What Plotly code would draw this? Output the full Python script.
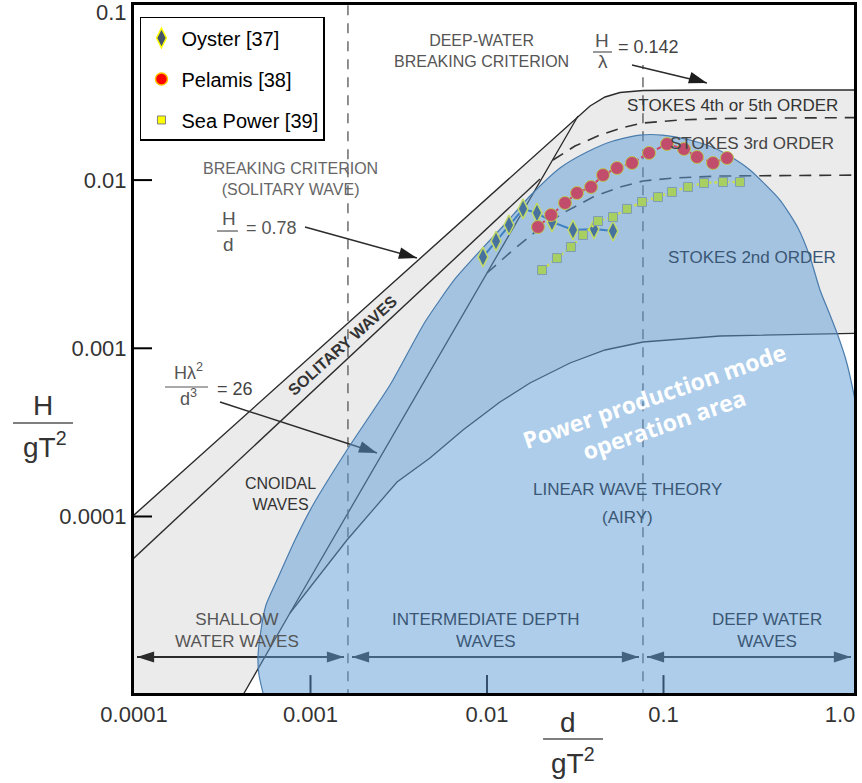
import plotly.graph_objects as go

# ---------------- device data (d/gT^2, H/gT^2) ----------------
oyster_x = [0.00949, 0.01125, 0.01332, 0.01600, 0.01920, 0.02335, 0.03070, 0.04038, 0.05175]
oyster_y = [0.00349, 0.00434, 0.00541, 0.00674, 0.00638, 0.00564, 0.00505, 0.00512, 0.00498]

pelamis_x = [0.01945, 0.02305, 0.02766, 0.03236, 0.03884, 0.04542, 0.05451, 0.06631,
             0.08279, 0.1047, 0.1306, 0.1548, 0.1907, 0.2290]
pelamis_y = [0.00526, 0.00620, 0.00731, 0.00838, 0.00910, 0.01072, 0.01180, 0.01264,
             0.01450, 0.01639, 0.01531, 0.01372, 0.01264, 0.01353]

seapower_x = [0.02050, 0.02492, 0.02991, 0.03500, 0.04256, 0.05175, 0.06213, 0.07554,
              0.09307, 0.1117, 0.1376, 0.1696, 0.2173, 0.2713]
seapower_y = [0.00292, 0.00344, 0.00400, 0.00472, 0.00571, 0.00603, 0.00674, 0.00741,
              0.00793, 0.00850, 0.00910, 0.00961, 0.00974, 0.00974]

# ---------------- region boundaries of the wave-theory diagram ----------------
shallow_limit = 0.00163
deep_limit = 0.0765

breaking_x = [8.0e-5, 0.03279, 0.03835, 0.04662, 0.05669, 0.07653, 0.1610, 1.5]
breaking_y = [8.27e-5, 0.02405, 0.02757, 0.03119, 0.03315, 0.03407, 0.03432, 0.03432]

solitary_x = [8.0e-5, 0.01997]
solitary_y = [4.55e-5, 0.01015]

ursell_x = [3.686e-4, 7.653e-4, 0.03279]
ursell_y = [7.0e-6, 2.668e-5, 0.02405]

linear_x = [7.653e-4, 1.6096e-3, 3.0925e-3, 4.753e-3, 7.311e-3, 0.011846, 0.017516,
            0.02954, 0.04662, 0.07653, 0.20901, 1.5]
linear_y = [2.668e-5, 7.248e-5, 1.6036e-4, 2.2275e-4, 3.268e-4, 4.794e-4, 6.218e-4,
            8.177e-4, 9.770e-4, 1.090e-3, 1.1832e-3, 1.2332e-3]

stokes34_x = [0.02365, 0.03152, 0.04368, 0.0605, 0.07653, 0.12404, 0.20901, 1.5]
stokes34_y = [0.013168, 0.015947, 0.018532, 0.020686, 0.021849, 0.02277, 0.023242, 0.023566]

stokes23_x = [0.0100, 0.014042, 0.019965, 0.027656, 0.03986, 0.05669, 0.07653, 0.11316, 0.20901, 1.5]
stokes23_y = [0.002804, 0.00384, 0.005191, 0.006463, 0.007933, 0.009099, 0.009877, 0.010285,
              0.010577, 0.010722]

# power production operation area outline
area_x = [5.381e-4, 5.107e-4, 5.040e-4, 5.241e-4, 5.595e-4, 6.459e-4, 8.172e-4, 1.0332e-3,
          1.6096e-3, 2.8211e-3, 4.4523e-3, 6.587e-3, 9.127e-3, 0.012647, 0.017516, 0.025913,
          0.036866, 0.051746, 0.07359, 0.09806, 0.1413, 0.18824, 0.24757, 0.3091, 0.45709,
          0.5781, 0.67608, 0.77018, 0.87787, 0.96161, 1.0814, 1.1846, 1.3323, 1.4791, 1.6849,
          1.6849, 0.04368, 7.653e-4, 5.743e-4]
area_y = [8.925e-6, 1.1418e-5, 1.4614e-5, 2.1145e-5, 2.9768e-5, 4.193e-5, 7.248e-5, 1.1703e-4,
          2.4849e-4, 6.05e-4, 1.4332e-3, 2.5823e-3, 3.7896e-3, 5.483e-3, 8.041e-3, 0.0118,
          0.014689, 0.01708, 0.018532, 0.018532, 0.017317, 0.015729, 0.01353, 0.011482, 7.613e-3,
          5.191e-3, 3.49e-3, 2.2213e-3, 1.577e-3, 1.2332e-3, 8.521e-4, 5.651e-4, 2.8496e-4,
          9.533e-5, 8.11e-6, 2.063e-6, 1.57e-6, 3.819e-6, 6.601e-6]

# depth-class arrows along the bottom
arrow_row_y = 1.46e-5
arrow_segments = [(1.04e-4, 1.548e-3), (1.718e-3, 0.07264), (0.08061, 1.154)]

# pointer arrows (start, tip)
ptr_hd = ([9.307e-4, 4.011e-3], [5.262e-3, 3.441e-3])
ptr_ursell = ([3.071e-4, 2.381e-3], [4.794e-4, 2.385e-4])
ptr_hl = ([0.06631, 0.1763], [0.04834, 0.03779])

x_tick_vals = [1e-4, 1e-3, 1e-2, 1e-1, 1]
x_tick_text = ["0.0001", "0.001", "0.01", "0.1", "1.0"]
y_tick_vals = [1e-4, 1e-3, 1e-2, 1e-1]
y_tick_text = ["0.0001", "0.001", "0.01", "0.1"]

FONT = "Liberation Sans, Arial, sans-serif"
fig = go.Figure()


def add_line(x, y, color="#2b2b2b", width=1.4, dash=None, shape="linear"):
    fig.add_trace(go.Scatter(x=x, y=y, mode="lines",
                             line=dict(color=color, width=width, dash=dash, shape=shape),
                             hoverinfo="skip", showlegend=False))


# grey non-linear region
gray_x = breaking_x + linear_x[::-1] + [ursell_x[0], breaking_x[0]]
gray_y = breaking_y + linear_y[::-1] + [ursell_y[0], ursell_y[0]]
fig.add_trace(go.Scatter(x=gray_x, y=gray_y, mode="lines", fill="toself", fillcolor="#ebebeb",
                         line=dict(width=0, color="#ebebeb"), hoverinfo="skip", showlegend=False))

add_line(breaking_x, breaking_y)
add_line(solitary_x, solitary_y)
add_line(ursell_x, ursell_y, width=1.3)
add_line(linear_x, linear_y, width=1.3)
add_line(stokes34_x, stokes34_y, color="#333333", width=1.6, dash="12px,8px")
add_line(stokes23_x, stokes23_y, color="#333333", width=1.6, dash="12px,8px")
add_line([shallow_limit, shallow_limit], [5e-6, 0.2], color="#555555", width=1.3, dash="10px,8px")
add_line([deep_limit, deep_limit], [5e-6, 0.0483], color="#555555", width=1.3, dash="10px,8px")

# bottom double arrows
head_x, head_ang = [], []
for a, b in arrow_segments:
    add_line([a, b], [arrow_row_y, arrow_row_y], width=2)
    head_x += [a, b]
    head_ang += [270, 90]
fig.add_trace(go.Scatter(x=head_x, y=[arrow_row_y] * len(head_x), mode="markers",
                         marker=dict(symbol="arrow", size=18, angle=head_ang, color="#2b2b2b",
                                     line=dict(width=0)),
                         hoverinfo="skip", showlegend=False))

# pointer arrows
for (px_, py_), ang in [(ptr_hd, 105.5), (ptr_ursell, 109.6), (ptr_hl, 107)]:
    add_line(px_, py_, width=1.5)
    fig.add_trace(go.Scatter(x=[px_[1]], y=[py_[1]], mode="markers",
                             marker=dict(symbol="arrow", size=19, angle=ang, color="#1e1e1e",
                                         line=dict(width=0)),
                             hoverinfo="skip", showlegend=False))

# power production operation area
fig.add_trace(go.Scatter(x=area_x, y=area_y, mode="lines", fill="toself",
                         fillcolor="rgba(91,155,213,0.5)",
                         line=dict(color="#4a7cad", width=1.2, shape="spline", smoothing=0.6),
                         hoverinfo="skip", showlegend=False))

# device data
fig.add_trace(go.Scatter(x=oyster_x, y=oyster_y, mode="lines+markers",
                         line=dict(color="#3d80c2", width=2),
                         marker=dict(symbol="diamond-tall", size=14, color="#48729e",
                                     line=dict(color="#c2da66", width=1.5)),
                         hoverinfo="skip", showlegend=False))
fig.add_trace(go.Scatter(x=pelamis_x, y=pelamis_y, mode="lines+markers",
                         line=dict(color="#d0406a", width=2, dash="dashdot"),
                         marker=dict(symbol="circle", size=13, color="#c24c6c",
                                     line=dict(color="#b9c652", width=1)),
                         hoverinfo="skip", showlegend=False))
fig.add_trace(go.Scatter(x=seapower_x, y=seapower_y, mode="lines+markers",
                         line=dict(color="#c9de4e", width=2.5, dash="dot"),
                         marker=dict(symbol="square", size=9, color="#a8cf62",
                                     line=dict(color="#7f9db5", width=1)),
                         hoverinfo="skip", showlegend=False))

# legend entries
fig.add_trace(go.Scatter(x=[None], y=[None], mode="markers", name="Oyster [37]", legendgroup="a",
                         marker=dict(symbol="diamond-tall", size=14, color="#44546a",
                                     line=dict(color="#ffff00", width=1.5))))
fig.add_trace(go.Scatter(x=[None], y=[None], mode="markers", name="Pelamis [38]", legendgroup="b",
                         marker=dict(symbol="circle", size=12, color="#ff0000",
                                     line=dict(color="#ffc000", width=1.5))))
fig.add_trace(go.Scatter(x=[None], y=[None], mode="markers", name="Sea Power [39]", legendgroup="c",
                         marker=dict(symbol="square", size=8, color="#ffff00",
                                     line=dict(color="#808080", width=1))))

# tick marks drawn inside
for v in [1e-3, 1e-2, 1e-1]:
    fig.add_shape(type="line", xref="x", yref="paper", x0=v, x1=v, y0=0, y1=0.026,
                  line=dict(color="#34506e", width=2))
for v in [1e-4, 1e-3, 1e-2]:
    fig.add_shape(type="line", xref="paper", yref="y", x0=0, x1=0.025, y0=v, y1=v,
                  line=dict(color="black", width=2))

# fraction bars
for x0, x1, y0, c, w in [(0.6375, 0.6639, 0.9317, "#555", 1.2), (0.1153, 0.1444, 0.6715, "#555", 1.2),
                         (0.0431, 0.1028, 0.4448, "#555", 1.2), (-0.1681, -0.0847, 0.3924, "#555", 1.4),
                         (0.5681, 0.6514, -0.0669, "#555", 1.4)]:
    fig.add_shape(type="line", xref="paper", yref="paper", x0=x0, x1=x1, y0=y0, y1=y0,
                  line=dict(color=c, width=w))


def label(text, x, y, size=17, color="#4a4a4a", angle=0, bold=False, family=FONT):
    fig.add_annotation(text=text, x=x, y=y, xref="paper", yref="paper", showarrow=False,
                       textangle=angle, xanchor="center", yanchor="middle",
                       font=dict(family=family, size=size, color=color,
                                 weight="bold" if bold else "normal"))


gray_txt = "#555555"
blue_txt = "#3b5775"
label("DEEP-WATER<br>BREAKING CRITERION", 0.4833, 0.9331, 16, gray_txt)
label("H", 0.65, 0.9491, 19, gray_txt)
label("λ", 0.6514, 0.9186, 19, gray_txt)
label("= 0.142", 0.7139, 0.9390, 18, "#444")
label("STOKES 4th or 5th ORDER", 0.8306, 0.8532, 17, "#333")
label("STOKES 3rd ORDER", 0.8583, 0.7980, 17, "#444")
label("STOKES 2nd ORDER", 0.8583, 0.6337, 17, blue_txt)
label("BREAKING CRITERION<br>(SOLITARY WAVE)", 0.2167, 0.7471, 16, "#666")
label("H", 0.1319, 0.6890, 19, gray_txt)
label("d", 0.1306, 0.6526, 19, gray_txt)
label("= 0.78", 0.1903, 0.6759, 18, gray_txt)
label("Hλ<sup>2</sup>", 0.075, 0.4680, 18, gray_txt)
label("d<sup>3</sup>", 0.075, 0.4288, 18, gray_txt)
label("= 26", 0.1403, 0.4419, 18, "#444")
label("SOLITARY WAVES", 0.2903, 0.5044, 16, "#333", angle=-42, bold=True)
label("CNOIDAL<br>WAVES", 0.2028, 0.2892, 16, "#333")
label("LINEAR WAVE THEORY", 0.6861, 0.2951, 17, blue_txt)
label("(AIRY)", 0.6861, 0.2558, 17, blue_txt)
label("SHALLOW<br>WATER WAVES", 0.1431, 0.0902, 17, gray_txt)
label("INTERMEDIATE DEPTH<br>WAVES", 0.4889, 0.0909, 17, blue_txt)
label("DEEP WATER<br>WAVES", 0.8792, 0.0909, 17, blue_txt)
label("Power production mode<br>operation area", 0.7292, 0.4113, 23, "white", angle=-19,
      bold=True, family="Open Sans, sans-serif")

# axis titles as fractions
label("H", -0.1264, 0.4186, 28, "#333")
label("gT<sup>2</sup>", -0.1236, 0.3605, 28, "#333")
label("d", 0.6028, -0.0422, 28, "#333")
label("gT<sup>2</sup>", 0.6097, -0.0988, 28, "#333")

fig.update_layout(
    width=862, height=783,
    margin=dict(l=134, r=8, t=5, b=90, autoexpand=False),
    paper_bgcolor="white", plot_bgcolor="white",
    hovermode=False,
    xaxis=dict(type="log", range=[-4, 0.0793], tickmode="array", tickvals=x_tick_vals,
               ticktext=x_tick_text, ticks="", showgrid=False, zeroline=False, showline=True,
               linecolor="black", linewidth=3, mirror=True, automargin=False,
               ticklabeloverflow="allow",
               tickfont=dict(family=FONT, size=22, color="#333")),
    yaxis=dict(type="log", range=[-5.0494, -0.959], tickmode="array", tickvals=y_tick_vals,
               ticktext=y_tick_text, ticks="", showgrid=False, zeroline=False, showline=True,
               linecolor="black", linewidth=3, mirror=True, automargin=False,
               ticklabeloverflow="allow",
               tickfont=dict(family=FONT, size=22, color="#333")),
    legend=dict(x=0.0083, y=0.9826, xanchor="left", yanchor="top", bgcolor="white",
                bordercolor="black", borderwidth=1.5, tracegroupgap=12,
                font=dict(family=FONT, size=20, color="black")),
)

fig.write_html("out.html", config={"displayModeBar": False},
               post_script="document.body.style.margin='0';document.body.style.padding='0';")
